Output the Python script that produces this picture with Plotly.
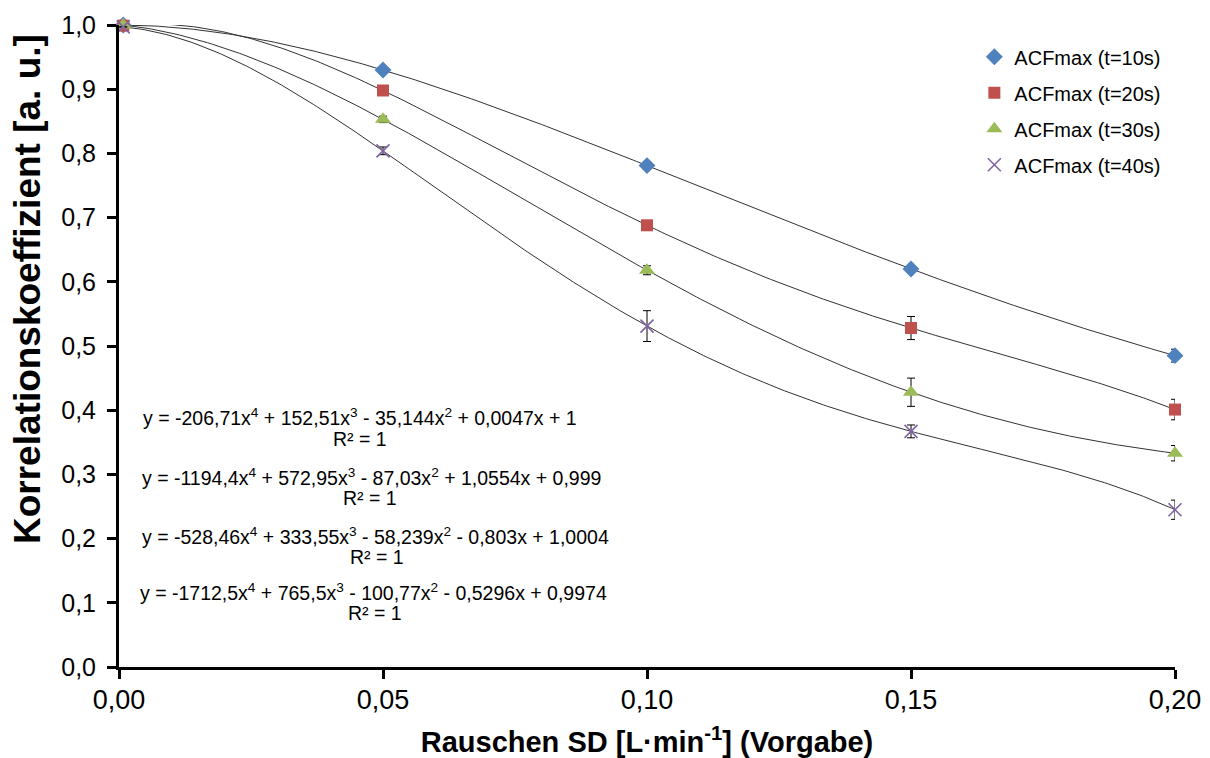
import numpy as np
import plotly.graph_objects as go

# ---- data ----
x_vals = [0.0008, 0.05, 0.10, 0.15, 0.20]
series_names = ["ACFmax (t=10s)", "ACFmax (t=20s)", "ACFmax (t=30s)", "ACFmax (t=40s)"]
y_10s = [1.000, 0.930, 0.781, 0.620, 0.485]
y_20s = [0.999, 0.898, 0.688, 0.528, 0.401]
y_30s = [1.000, 0.853, 0.618, 0.428, 0.333]
y_40s = [0.997, 0.804, 0.531, 0.367, 0.245]
err_10s = [0.0, 0.003, 0.006, 0.004, 0.010]
err_20s = [0.0, 0.003, 0.004, 0.018, 0.016]
err_30s = [0.0, 0.005, 0.007, 0.022, 0.012]
err_40s = [0.0, 0.006, 0.024, 0.010, 0.015]

equations = [
    "y = -206,71x<sup>4</sup> + 152,51x<sup>3</sup> - 35,144x<sup>2</sup> + 0,0047x + 1",
    "y = -1194,4x<sup>4</sup> + 572,95x<sup>3</sup> - 87,03x<sup>2</sup> + 1,0554x + 0,999",
    "y = -528,46x<sup>4</sup> + 333,55x<sup>3</sup> - 58,239x<sup>2</sup> - 0,803x + 1,0004",
    "y = -1712,5x<sup>4</sup> + 765,5x<sup>3</sup> - 100,77x<sup>2</sup> - 0,5296x + 0,9974",
]
r2_text = "R² = 1"
x_title = "<b>Rauschen SD [L·min<sup>-1</sup>] (Vorgabe)</b>"
y_title = "<b>Korrelationskoeffizient [a. u.]</b>"

x_ticks = [0.0, 0.05, 0.10, 0.15, 0.20]
y_ticks = [0.0, 0.1, 0.2, 0.3, 0.4, 0.5, 0.6, 0.7, 0.8, 0.9, 1.0]

# ---- layout geometry (pixels) ----
W, H = 1210, 758
L, R, T, B = 119, 35, 25, 91
PW, PH = W - L - R, H - T - B


def px2paper(px, py):
    return (px - L) / PW, (H - B - py) / PH


# equation label centres (pixel): (eq_x, eq_y, r2_x, r2_y)
eq_pix = [(360, 417, 360, 439), (371, 477, 370, 498), (375, 536, 377, 557), (373, 592, 375, 613)]

# ---- styles ----
markers = [
    dict(symbol="diamond", size=13, color="#4F81BD"),
    dict(symbol="square", size=12, color="#C0504D"),
    dict(symbol="triangle-up", size=14, color="#9BBB59"),
    dict(symbol="x-thin", size=13, color="#8064A2", line=dict(width=1.6, color="#8064A2")),
]
FONT = "Liberation Sans, Arial, sans-serif"

fig = go.Figure()
ys = [y_10s, y_20s, y_30s, y_40s]
errs = [err_10s, err_20s, err_30s, err_40s]

# trendlines (4th order polynomial through the points)
xs_fine = np.linspace(x_vals[0], x_vals[-1], 300)
for y in ys:
    coef = np.polyfit(x_vals, y, 4)
    fig.add_trace(go.Scatter(x=xs_fine, y=np.polyval(coef, xs_fine), mode="lines",
                             line=dict(color="#333333", width=1), showlegend=False,
                             hoverinfo="skip", cliponaxis=False))

for i, (name, y, e) in enumerate(zip(series_names, ys, errs)):
    fig.add_trace(go.Scatter(
        x=x_vals, y=y, mode="markers", name=name, marker=markers[i],
        error_y=dict(type="data", array=e, visible=True, color="black", thickness=1, width=4),
        cliponaxis=False, legendgroup=f"g{i}"))

for txt, (ex, ey, rx, ry) in zip(equations, eq_pix):
    ax_, ay_ = px2paper(ex, ey)
    fig.add_annotation(x=ax_, y=ay_, xref="paper", yref="paper", text=txt, showarrow=False,
                       font=dict(family=FONT, size=19.5, color="black"),
                       xanchor="center", yanchor="middle")
    bx_, by_ = px2paper(rx, ry)
    fig.add_annotation(x=bx_, y=by_, xref="paper", yref="paper", text=r2_text, showarrow=False,
                       font=dict(family=FONT, size=19.5, color="black"),
                       xanchor="center", yanchor="middle")

# y-axis title (placed as rotated annotation, like the reference slightly above centre)
tx, ty = px2paper(27, 289)
fig.add_annotation(x=tx, y=ty, xref="paper", yref="paper", text=y_title, showarrow=False,
                   textangle=-90, font=dict(family=FONT, size=37, color="black"),
                   xanchor="center", yanchor="middle")

axis_common = dict(showgrid=False, zeroline=False, showline=True, linecolor="black", linewidth=3,
                   ticks="outside", ticklen=9, tickwidth=3, tickcolor="black", automargin=False)

fig.update_layout(
    width=W, height=H,
    margin=dict(l=L, r=R, t=T, b=B),
    paper_bgcolor="white", plot_bgcolor="white",
    separators=",.",
    xaxis=dict(range=[0, 0.2], tickvals=x_ticks, tickformat=".2f",
               tickfont=dict(family=FONT, size=27, color="black"), ticklabelstandoff=-2,
               title=dict(text=x_title,
                          font=dict(family=FONT, size=29, color="black"), standoff=18),
               **axis_common),
    yaxis=dict(range=[0, 1], tickvals=y_ticks, tickformat=".1f",
               tickfont=dict(family=FONT, size=25, color="black"), ticklabelstandoff=6,
               **axis_common),
    legend=dict(x=0.81, y=0.981, xanchor="left", yanchor="top", bgcolor="rgba(0,0,0,0)",
                font=dict(family=FONT, size=20, color="black"), traceorder="grouped",
                tracegroupgap=7, itemwidth=30),
)

fig.write_html("out.html")
